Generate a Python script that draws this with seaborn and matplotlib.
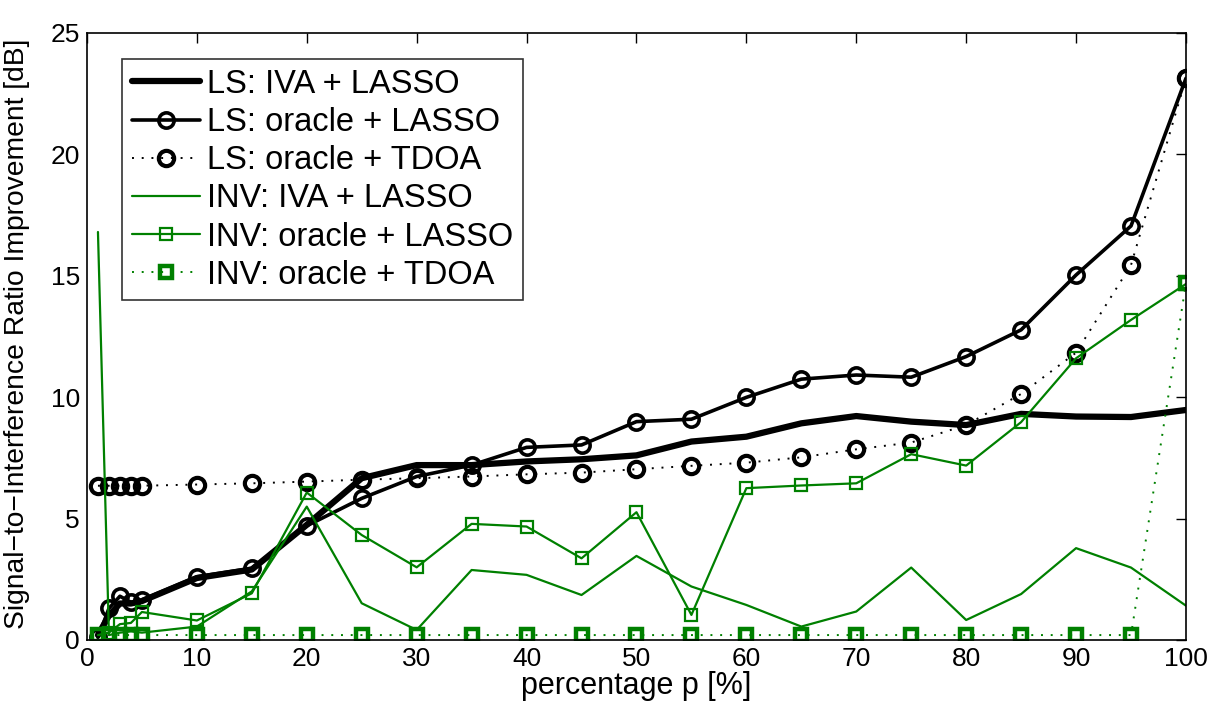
import numpy as np
import pandas as pd
import matplotlib
matplotlib.use('Agg')
import matplotlib.pyplot as plt
import seaborn as sns

# percentage p
p = [1, 2, 3, 4, 5, 10, 15, 20, 25, 30, 35, 40, 45, 50, 55, 60, 65, 70, 75, 80, 85, 90, 95, 100]

ls_iva_lasso = [0.2, 1.0, 1.5, 1.5, 1.6, 2.55, 2.9, 4.74, 6.66, 7.2, 7.2, 7.35, 7.44, 7.6, 8.17, 8.37,
                8.92, 9.22, 8.99, 8.85, 9.31, 9.2, 9.18, 9.47]
ls_oracle_lasso = [0.1, 1.3, 1.8, 1.55, 1.65, 2.6, 2.95, 4.7, 5.83, 6.73, 7.2, 7.93, 8.03, 8.99, 9.09, 9.99,
                   10.74, 10.91, 10.82, 11.67, 12.77, 15.03, 17.05, 23.13]
ls_oracle_tdoa = [6.35, 6.35, 6.35, 6.35, 6.35, 6.4, 6.45, 6.52, 6.6, 6.66, 6.73, 6.82, 6.89, 7.03, 7.17, 7.3,
                  7.52, 7.85, 8.13, 8.85, 10.13, 11.83, 15.44, 23.13]
inv_iva_lasso = [16.8, 0.2, 0.3, 0.35, 0.3, 0.55, 2.0, 5.49, 1.51, 0.41, 2.88, 2.68, 1.85, 3.46, 2.2, 1.44,
                 0.55, 1.17, 2.98, 0.82, 1.89, 3.78, 2.98, 1.41]
inv_oracle_lasso = [0.2, 0.3, 0.65, 0.7, 1.15, 0.8, 1.92, 6.07, 4.32, 2.99, 4.78, 4.67, 3.36, 5.26, 1.03, 6.25,
                    6.36, 6.45, 7.65, 7.18, 8.97, 11.6, 13.18, 14.66]
inv_oracle_tdoa = [0.2, 0.2, 0.2, 0.2, 0.2, 0.2, 0.2, 0.2, 0.2, 0.2, 0.2, 0.2, 0.2, 0.2, 0.2, 0.2,
                   0.2, 0.2, 0.2, 0.2, 0.2, 0.2, 0.2, 14.7]

green = '#008000'

sns.set_style('white')
plt.rcParams['font.family'] = ['Liberation Sans', 'DejaVu Sans']
plt.rcParams.update({'text.color': 'black', 'axes.labelcolor': 'black',
                     'xtick.color': 'black', 'ytick.color': 'black'})

fig = plt.figure(figsize=(12.18, 7.15), dpi=100)
ax = fig.add_axes([0.0714, 0.105, 0.9023, 0.849])

series = [
    ('LS: IVA + LASSO', ls_iva_lasso, dict(color='black', lw=4.5, linestyle='-')),
    ('LS: oracle + LASSO', ls_oracle_lasso, dict(color='black', lw=2.6, linestyle='-', marker='o',
                                                 markersize=11, mfc='none', mec='black', mew=2.6)),
    ('LS: oracle + TDOA', ls_oracle_tdoa, dict(color='black', lw=1.4, linestyle=(0, (1, 4)), marker='o',
                                               markersize=11, mfc='none', mec='black', mew=3)),
    ('INV: IVA + LASSO', inv_iva_lasso, dict(color=green, lw=1.6, linestyle='-')),
    ('INV: oracle + LASSO', inv_oracle_lasso, dict(color=green, lw=1.6, linestyle='-', marker='s',
                                                   markersize=9, mfc='none', mec=green, mew=1.6)),
    ('INV: oracle + TDOA', inv_oracle_tdoa, dict(color=green, lw=1.4, linestyle=(0, (1, 4)), marker='s',
                                                 markersize=8, mfc='none', mec=green, mew=3.2)),
]

for name, vals, style in series:
    df = pd.DataFrame({'p': p, 'sir': vals})
    sns.lineplot(data=df, x='p', y='sir', ax=ax, label=name, sort=False, **style)

ax.set_xlim(0, 100)
ax.set_ylim(0, 25)
ax.set_xticks(np.arange(0, 101, 10))
ax.set_yticks(np.arange(0, 26, 5))
ax.tick_params(direction='in', length=7, width=1, top=True, right=True, labelsize=19, pad=5)
for s in ax.spines.values():
    s.set_color('black')
    s.set_linewidth(1.2)
ax.set_xlabel('percentage p [%]', fontsize=22, labelpad=0)
ax.set_ylabel('Signal\u2212to\u2212Interference Ratio Improvement [dB]', fontsize=20.3)
ax.yaxis.set_label_coords(-0.052, 0.505)

leg = ax.legend(loc='upper left', bbox_to_anchor=(0.032, 0.957), fontsize=23.5, frameon=True,
                fancybox=False, edgecolor='black', handlelength=2.1, labelspacing=0.22,
                borderpad=0.3, handletextpad=0.2, borderaxespad=0)
leg.get_frame().set_linewidth(1.2)

fig.savefig('out.png', dpi=100)
